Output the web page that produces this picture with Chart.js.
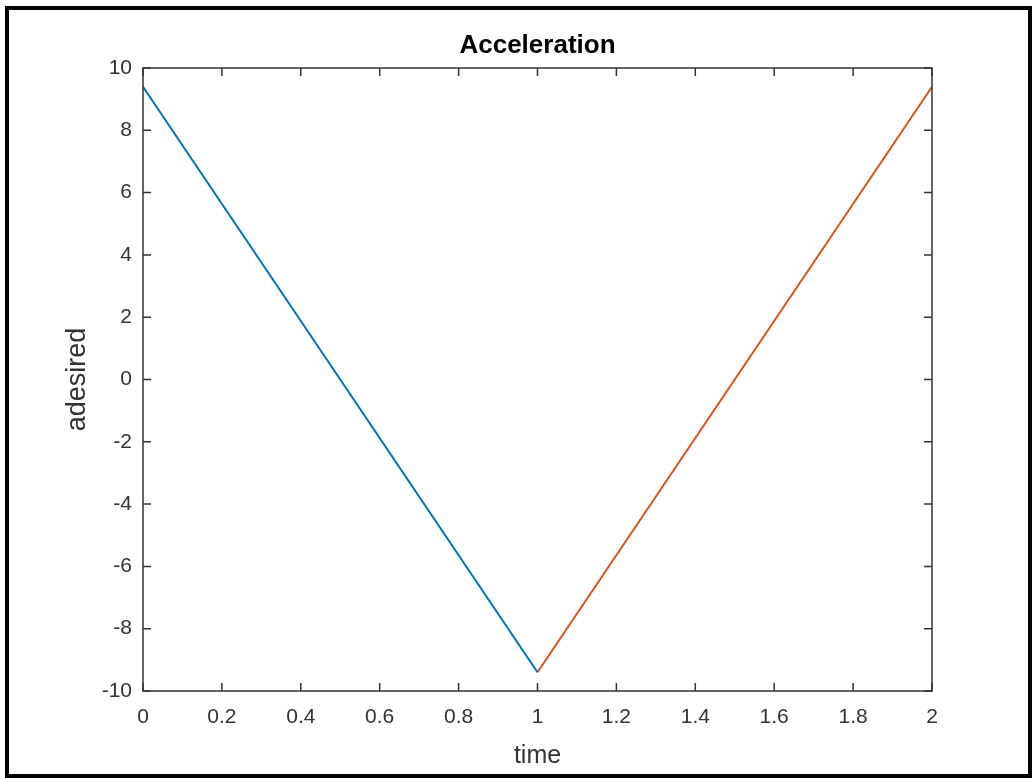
<!DOCTYPE html>
<html>
<head>
<meta charset="utf-8">
<script src="https://cdn.jsdelivr.net/npm/chart.js@4/dist/chart.umd.min.js"></script>
<style>
  body { margin: 0; background: #fff; }
  #wrap { position: relative; width: 1032px; height: 778px; }
  #frame {
    position: absolute; left: 5px; top: 6px; width: 1027px; height: 772px;
    box-sizing: border-box; border: 4px solid #000; pointer-events: none;
  }
  canvas { position: absolute; left: 0; top: 0; }
</style>
</head>
<body>
<div id="wrap">
  <canvas id="accChart" width="1032" height="778"></canvas>
  <div id="frame"></div>
</div>
<script>
// values
var firstTime = [0, 1];
var firstAcc = [9.4, -9.4];
var secondTime = [1, 2];
var secondAcc = [-9.4, 9.4];
var xTicks = [0, 0.2, 0.4, 0.6, 0.8, 1, 1.2, 1.4, 1.6, 1.8, 2];
var yTicks = [-10, -8, -6, -4, -2, 0, 2, 4, 6, 8, 10];
var chartTitle = 'Acceleration';

var axisColor = '#333333';
var fontFamily = 'Liberation Sans, Arial, sans-serif';

function toPoints(xs, ys) {
    return xs.map(function (x, i) { return { x: x, y: ys[i] }; });
}

// MATLAB style box with inward ticks on every side, title centred on the axes
var boxPlugin = {
    id: 'boxPlugin',
    afterDraw: function (chart) {
        var ctx = chart.ctx;
        var a = chart.chartArea;
        var xs = chart.scales.x, ys = chart.scales.y;
        var len = 8;
        ctx.save();
        ctx.strokeStyle = axisColor;
        ctx.lineWidth = 1.5;
        ctx.strokeRect(a.left, a.top, a.right - a.left, a.bottom - a.top);
        ctx.beginPath();
        xTicks.forEach(function (v) {
            var px = xs.getPixelForValue(v);
            ctx.moveTo(px, a.bottom); ctx.lineTo(px, a.bottom - len);
            ctx.moveTo(px, a.top); ctx.lineTo(px, a.top + len);
        });
        yTicks.forEach(function (v) {
            var py = ys.getPixelForValue(v);
            ctx.moveTo(a.left, py); ctx.lineTo(a.left + len, py);
            ctx.moveTo(a.right, py); ctx.lineTo(a.right - len, py);
        });
        ctx.stroke();

        ctx.fillStyle = '#000';
        ctx.font = 'bold 26px ' + fontFamily;
        ctx.textAlign = 'center';
        ctx.textBaseline = 'alphabetic';
        ctx.fillText(chartTitle, (a.left + a.right) / 2, a.top - 15);
        ctx.restore();
    }
};

var ctx = document.getElementById('accChart').getContext('2d');
var chart = new Chart(ctx, {
    type: 'line',
    data: {
        datasets: [{
            data: toPoints(firstTime, firstAcc),
            borderColor: '#0072BD',
            borderWidth: 2,
            pointRadius: 0,
            tension: 0
        }, {
            data: toPoints(secondTime, secondAcc),
            borderColor: '#D95319',
            borderWidth: 2,
            pointRadius: 0,
            tension: 0
        }]
    },
    options: {
        responsive: false,
        animation: false,
        layout: { padding: { top: 68, right: 100, bottom: 0, left: 0 } },
        plugins: {
            legend: { display: false },
            tooltip: { enabled: false },
            title: { display: false }
        },
        scales: {
            x: {
                type: 'linear',
                min: 0,
                max: 2,
                afterBuildTicks: function (scale) {
                    scale.ticks = xTicks.map(function (v) { return { value: v }; });
                },
                afterFit: function (scale) { scale.height = 87; },
                grid: { display: false, drawTicks: false },
                border: { display: false },
                ticks: {
                    color: axisColor,
                    padding: 14,
                    maxRotation: 0,
                    autoSkip: false,
                    callback: function (v) { return String(v); },
                    font: { family: fontFamily, size: 21 }
                },
                title: {
                    display: true,
                    text: 'time',
                    color: axisColor,
                    font: { family: fontFamily, size: 25 },
                    padding: { top: 0, bottom: 7 }
                }
            },
            y: {
                type: 'linear',
                min: -10,
                max: 10,
                afterBuildTicks: function (scale) {
                    scale.ticks = yTicks.map(function (v) { return { value: v }; });
                },
                afterFit: function (scale) { scale.width = 143; },
                grid: { display: false, drawTicks: false },
                border: { display: false },
                ticks: {
                    color: axisColor,
                    padding: 11,
                    autoSkip: false,
                    callback: function (v) { return String(v); },
                    font: { family: fontFamily, size: 21 }
                },
                title: {
                    display: true,
                    text: 'adesired',
                    color: axisColor,
                    font: { family: fontFamily, size: 27 },
                    padding: { top: 61, bottom: 0 }
                }
            }
        }
    },
    plugins: [boxPlugin]
});
</script>
</body>
</html>
